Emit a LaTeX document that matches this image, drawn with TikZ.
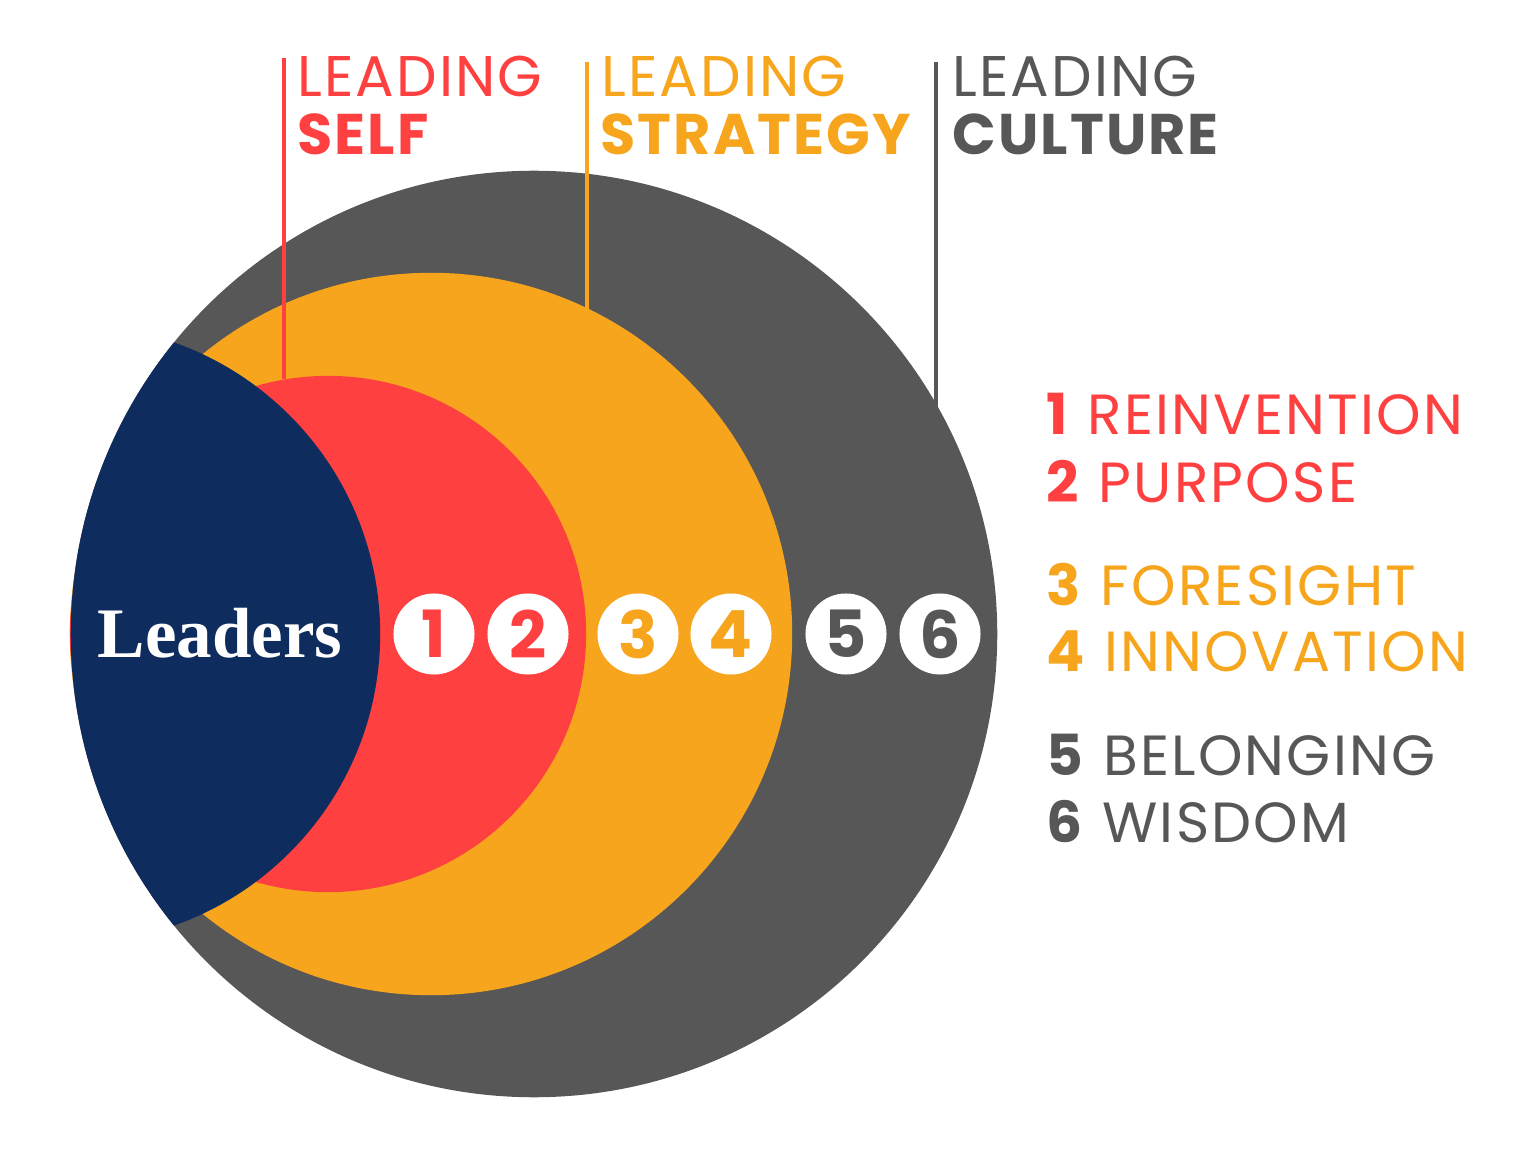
\documentclass[tikz,border=0pt]{standalone}
\usepackage{fontspec}
\setsansfont{Poppins}
\newfontfamily\headfont[LetterSpace=3.5]{Poppins}
\newfontfamily\keyfont[LetterSpace=4]{Poppins}
\newfontfamily\leadfont{Liberation Serif}
\usetikzlibrary{positioning,calc}
\definecolor{selfred}{HTML}{FF4040}
\definecolor{stratorange}{HTML}{F6A51C}
\definecolor{cultgray}{HTML}{575757}
\definecolor{leadnavy}{HTML}{0F2C5E}
\begin{document}
\begin{tikzpicture}[x=0.01cm,y=-0.01cm,every node/.style={font=\sffamily},
 disc/.style={circle,inner sep=0pt,outer sep=0pt},
 num/.style={disc,fill=white,minimum size=0.81cm,font=\sffamily\bfseries\fontsize{18.5}{18.5}\selectfont},
 head/.style={anchor=base west,inner sep=0pt,font=\headfont\fontsize{16.3}{16.3}\selectfont},
 item/.style={anchor=base west,inner sep=0pt,font=\keyfont\fontsize{16.1}{16.1}\selectfont},
 tag/.style={line width=0.9pt}]
\useasboundingbox (0,0) rectangle (1536,1152);
% the three rings, all touching on the left
\node[disc,fill=cultgray,minimum size=9.26cm] (culturec) at (534,634) {};
\node[disc,fill=stratorange,minimum size=7.22cm] (strategyc) at (431,634) {};
\node[disc,fill=selfred,minimum size=5.16cm] (selfc) at (328,634) {};
\begin{scope}
\clip (culturec.center) circle[radius=4.63cm];
\fill[leadnavy] (71,634) circle[radius=3.09cm];
\end{scope}
\node[font=\leadfont\bfseries\fontsize{20.2}{20.2}\selectfont,text=white] (leaders) at (220,633) {Leaders};
% numbered dots
\node[num,text=selfred] (n1) at (434,634) {1};
\node[num,text=selfred] (n2) at (528,634) {2};
\node[num,text=stratorange] (n3) at (638,634) {3};
\node[num,text=stratorange] (n4) at (731,634) {4};
\node[num,text=cultgray] (n5) at (846,634) {5};
\node[num,text=cultgray] (n6) at (940,634) {6};
% headings and their leader lines
\coordinate (selftop) at (284,58);
\coordinate (strategytop) at (587,62);
\coordinate (culturetop) at (936,62);
\draw[tag,selfred] (selftop)--(selftop |- selfc.99.8);
\draw[tag,stratorange] (strategytop)--(strategytop |- strategyc.64.4);
\draw[tag,cultgray] (culturetop)--(culturetop |- culturec.29.7);
\node[head,text=selfred] (self1) at (297,97) {LEADING};
\node[head,text=selfred] (self2) at (297,155) {\bfseries SELF};
\node[head,text=stratorange] (strategy1) at (601,97) {LEADING};
\node[head,text=stratorange] (strategy2) at (600,155) {\bfseries STRATEGY};
\node[head,text=cultgray] (culture1) at (952,97) {LEADING};
\node[head,text=cultgray] (culture2) at (952,155) {\bfseries CULTURE};
% key
\node[item,text=selfred] (r1) at (1046,435) {\textbf{1} REINVENTION};
\node[item,text=selfred] (r2) at (1046,502) {\textbf{2} PURPOSE};
\node[item,text=stratorange] (r3) at (1046,605) {\textbf{3} FORESIGHT};
\node[item,text=stratorange] (r4) at (1046,672) {\textbf{4} INNOVATION};
\node[item,text=cultgray] (r5) at (1046,775) {\textbf{5} BELONGING};
\node[item,text=cultgray] (r6) at (1046,842) {\textbf{6} WISDOM};
\end{tikzpicture}
\end{document}
